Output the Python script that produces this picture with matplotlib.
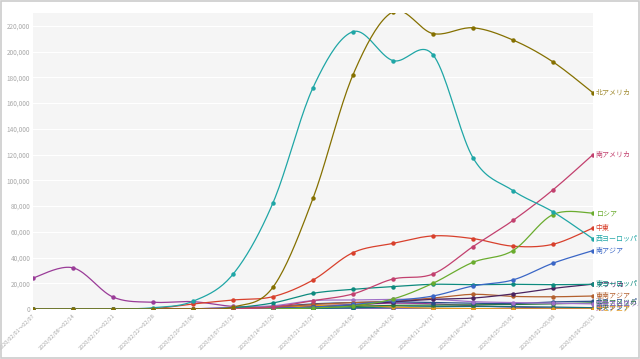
import numpy as np
import matplotlib
matplotlib.use("Agg")
from matplotlib import pyplot as plt
from matplotlib.patches import Rectangle

plt.rcParams['font.family'] = ['Noto Sans CJK JP', 'DejaVu Sans']

# weekly periods
weeks = ["2020/02/01～02/07", "2020/02/08～02/14", "2020/02/15～02/21",
         "2020/02/22～02/28", "2020/02/29～03/06", "2020/03/07～03/13",
         "2020/03/14～03/20", "2020/03/21～03/27", "2020/03/28～04/03",
         "2020/04/04～04/10", "2020/04/11～04/17", "2020/04/18～04/24",
         "2020/04/25～05/01", "2020/05/02～05/08", "2020/05/09～05/15"]

north_america = [0, 0, 0, 0, 100, 1500, 17000, 86000, 182000, 231000, 214000, 218500, 209000, 192000, 168000]
west_europe = [0, 0, 0, 1000, 6000, 27000, 82500, 172000, 215500, 193000, 197500, 117500, 92000, 75500, 54500]
south_america = [0, 0, 0, 0, 0, 100, 1500, 6500, 11700, 23300, 27200, 48500, 68800, 92600, 120000]
russia = [0, 0, 0, 0, 0, 20, 100, 800, 2500, 7800, 20000, 36300, 45400, 73400, 74500]
middle_east = [0, 0, 0, 300, 3900, 7000, 9600, 22500, 43800, 51000, 56800, 54700, 48800, 50300, 63000]
south_asia = [0, 0, 0, 0, 20, 100, 500, 1500, 3500, 6500, 10100, 17900, 22600, 35600, 45400]
east_europe = [0, 0, 0, 0, 50, 1000, 4700, 12200, 15300, 17400, 19200, 18900, 19200, 18900, 19200]
africa = [0, 0, 0, 0, 0, 100, 500, 1500, 3000, 5500, 7500, 8500, 11700, 16000, 19300]
southeast_asia = [0, 0, 0, 0, 100, 500, 1500, 3500, 5000, 6000, 8500, 11400, 9800, 9500, 10100]
east_asia = [24100, 32000, 9300, 5200, 5700, 2000, 1500, 2500, 3500, 4500, 4000, 2500, 1500, 800, 600]
central_europe = [0, 0, 0, 0, 100, 1500, 2500, 6500, 7000, 7500, 7500, 5700, 5000, 4500, 4000]
north_europe = [0, 0, 0, 0, 200, 800, 2000, 4000, 5000, 5500, 5000, 4500, 4200, 5500, 6000]
central_america = [0, 0, 0, 0, 0, 50, 300, 1000, 2000, 2800, 3000, 3300, 3500, 4000, 4800]
oceania = [0, 0, 0, 0, 0, 100, 800, 2500, 2800, 1500, 600, 300, 150, 100, 100]
central_asia = [0, 0, 0, 0, 0, 0, 100, 400, 1000, 1500, 1800, 2000, 1800, 1500, 1000]

series = [
    ("北アメリカ", north_america, '#857000', '#a08a30'),
    ("西ヨーロッパ", west_europe, '#1fa6a6', '#1fa6a6'),
    ("南アメリカ", south_america, '#c2406e', '#c2406e'),
    ("ロシア", russia, '#6aac2e', '#6aac2e'),
    ("中東", middle_east, '#d8402c', '#d8402c'),
    ("南アジア", south_asia, '#3a66c6', '#3a66c6'),
    ("東ヨーロッパ", east_europe, '#0d8a7e', '#0d8a7e'),
    ("アフリカ", africa, '#4a2360', '#4a2360'),
    ("東南アジア", southeast_asia, '#b3602e', '#b3602e'),
    ("中央ヨーロッパ", central_europe, '#a070c8', '#a070c8'),
    ("北ヨーロッパ", north_europe, '#2a4f8a', '#2a4f8a'),
    ("中央アメリカ", central_america, '#2b7a3a', '#2b7a3a'),
    ("オセアニア", oceania, '#e89a1c', '#e89a1c'),
    ("中央アジア", central_asia, '#14707a', '#14707a'),
    ("東アジア", east_asia, '#9a3c98', '#9a3c98'),
]
zero_line = [0] * len(weeks)


def smooth(x, y, n=20):
    # catmull-rom style curve through the points, only for drawing
    x = np.asarray(x, float)
    y = np.asarray(y, float)
    px = np.concatenate([[x[0]], x, [x[-1]]])
    py = np.concatenate([[y[0]], y, [y[-1]]])
    xs, ys = [], []
    for i in range(1, len(px) - 2):
        t = np.linspace(0, 1, n, endpoint=False)
        for p, out in ((px, xs), (py, ys)):
            p0, p1, p2, p3 = p[i - 1], p[i], p[i + 1], p[i + 2]
            m1 = (p2 - p0) / 2
            m2 = (p3 - p1) / 2
            h00 = 2 * t**3 - 3 * t**2 + 1
            h10 = t**3 - 2 * t**2 + t
            h01 = -2 * t**3 + 3 * t**2
            h11 = t**3 - t**2
            out.extend(h00 * p1 + h10 * m1 + h01 * p2 + h11 * m2)
    xs.append(x[-1])
    ys.append(y[-1])
    return np.array(xs), np.array(ys)


fig = plt.figure(figsize=(6.4, 3.59), dpi=100)
fig.patch.set_facecolor('white')
ax = fig.add_axes([33 / 640, 1 - 309 / 359, 560 / 640, 296 / 359])
ax.set_facecolor('#f5f5f5')

x = np.arange(len(weeks))
ax.plot(x, zero_line, color='#6a4aa0', lw=1.2, zorder=1)
ax.plot(x, zero_line, 'o', color='#6a4aa0', ms=2.2, zorder=1)
for name, vals, col, lcol in series[::-1]:
    sx, sy = smooth(x, vals)
    ax.plot(sx, sy, color=col, lw=0.9, zorder=2)
    ax.plot(x, vals, 'o', color=col, ms=2.2, zorder=3)
    ax.text(x[-1] + 0.07, vals[-1], name, color=lcol, fontsize=5,
            va='center', ha='left', clip_on=False)

ax.set_xlim(0, len(weeks) - 1)
ax.set_ylim(0, 230000)
ax.set_yticks(np.arange(0, 220001, 20000))
ax.set_yticklabels(["{:,}".format(v) for v in range(0, 220001, 20000)])
ax.set_xticks(x)
ax.set_xticklabels(weeks, rotation=45, ha='right', rotation_mode='anchor')
ax.tick_params(axis='both', length=0, colors='#a8a8a8')
ax.tick_params(axis='y', pad=2, labelsize=4.6)
ax.tick_params(axis='x', pad=3, labelsize=4.0)
ax.grid(axis='y', color='white', lw=0.8)
ax.set_axisbelow(True)
for s in ax.spines.values():
    s.set_visible(False)

fig.patches.append(Rectangle((0.001, 0.002), 0.997, 0.995, transform=fig.transFigure,
                             fill=False, edgecolor='#cccccc', lw=1.2))

fig.savefig('out.png', dpi=100)
